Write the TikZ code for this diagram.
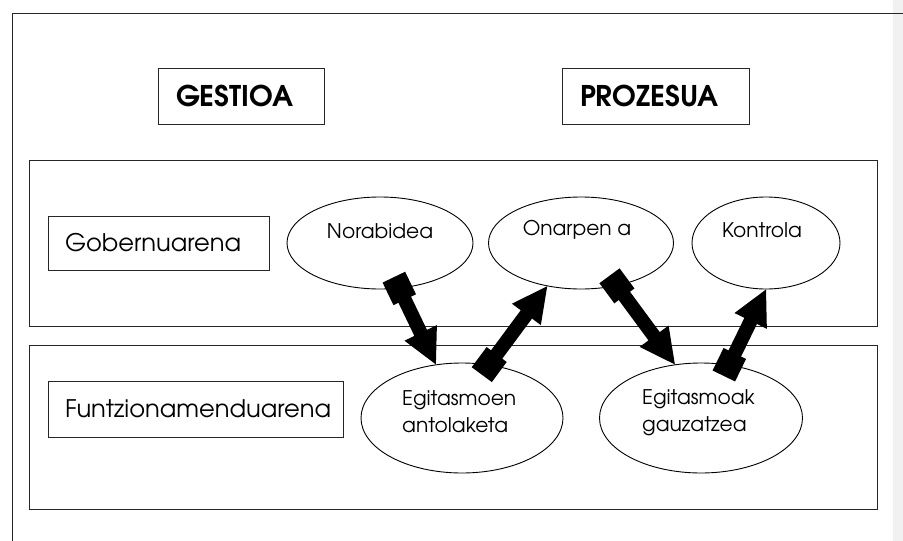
\documentclass[tikz,border=0pt]{standalone}
\usepackage{fontspec}
\setmainfont{TeX Gyre Adventor}
\usetikzlibrary{shapes.geometric,calc}
\definecolor{stripgray}{RGB}{241,241,241}
% fat arrow: square (side 25) centred at #1, shaft 14 wide, triangular head (35 long, 36 wide) with tip at #2
\newcommand\fatarrow[2]{%
  \fill[black]
    ($(#1)!17.7pt!45:(#2)$) -- ($(#1)!17.7pt!135:(#2)$) --
    ($(#1)!17.7pt!-135:(#2)$) -- ($(#1)!17.7pt!-45:(#2)$) -- cycle;
  \coordinate (hb) at ($(#2)!35pt!(#1)$);
  \fill[black]
    ($(#1)!7pt!90:(#2)$) -- ($(hb)!7pt!-90:(#1)$) -- ($(hb)!18pt!-90:(#1)$) --
    (#2) -- ($(hb)!18pt!90:(#1)$) -- ($(hb)!7pt!90:(#1)$) --
    ($(#1)!7pt!-90:(#2)$) -- cycle;
}
\begin{document}
\begin{tikzpicture}[x=1pt,y=-1pt,
  frameline/.style={line width=1pt, draw=black!85},
  band/.style={draw=black!85, line width=1pt},
  hdbox/.style={draw=black!85, line width=1pt, inner xsep=18pt, align=left, minimum height=56pt, font=\fontsize{28.5}{32}\selectfont\bfseries},
  lblbox/.style={draw=black!85, line width=1pt, inner xsep=17pt, align=left, font=\fontsize{24.2}{28}\selectfont},
  ell/.style={ellipse, draw=black, line width=0.9pt, inner sep=0pt},
  elltxt/.style={inner sep=0pt, font=\fontsize{20.2}{27}\selectfont}
]
\useasboundingbox (0,0) rectangle (903,541);
\fill[stripgray] (893,0) rectangle (903,541);
\coordinate (tl) at (12,13);
\coordinate (tr) at (903,13);
\coordinate (bl) at (12,541);
\draw[frameline] (tr) -- (tl) -- (bl);

\node[hdbox, text width=130pt] (gest) at (241,96) {GESTIOA};
\node[hdbox, text width=151pt] (proz) at (655.5,96) {PROZESUA};

\draw[band] (29,160) rectangle (877,326);
\draw[band] (29,345) rectangle (877,509);

\node[lblbox, text width=187pt, minimum height=54pt] (gob) at (158.5,243) {Gobernuarena};
\node[lblbox, text width=261pt, minimum height=56pt] (fun) at (195.5,409) {Funtzionamenduarena};

\node[ell, minimum width=186pt, minimum height=92pt] (nor) at (380,243) {};
\node[elltxt] at (380,231) {Norabidea};
\node[ell, minimum width=185pt, minimum height=92pt] (ona) at (581,243) {};
\node[elltxt] at (577,230) {Onarpen a};
\node[ell, minimum width=148pt, minimum height=92pt] (kon) at (766,243) {};
\node[elltxt] at (762,230) {Kontrola};
\node[ell, minimum width=202pt, minimum height=110pt] (ega) at (462,418) {};
\node[elltxt, align=left, anchor=west] at (402,412) {Egitasmoen\\antolaketa};
\node[ell, minimum width=203pt, minimum height=110pt] (egg) at (701,418) {};
\node[elltxt, align=left, anchor=west] at (642,413) {Egitasmoak\\gauzatzea};

\fatarrow{nor.-67.7}{ega.116.6}
\fatarrow{ega.63}{ona.-128}
\fatarrow{ona.-50.6}{egg.116.6}
\fatarrow{egg.62}{kon.-90}
\end{tikzpicture}
\end{document}
